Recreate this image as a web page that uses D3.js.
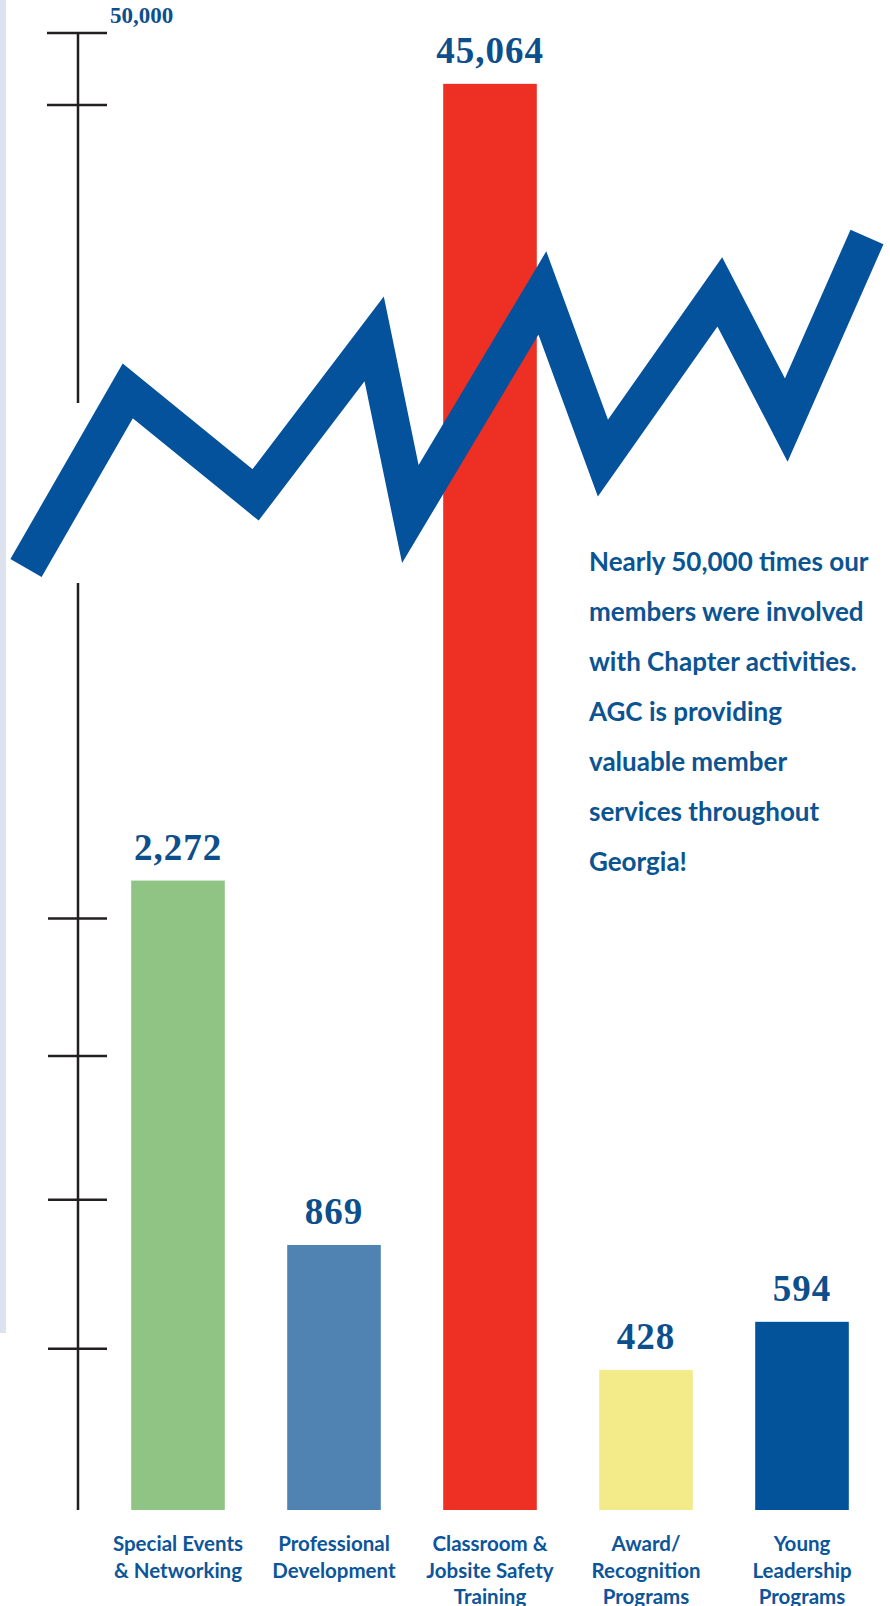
<!DOCTYPE html>
<html lang="en">
<head>
    <meta charset="utf-8" />
    <title>Member involvement</title>
    <script type="text/javascript" src="https://d3js.org/d3.v7.min.js"></script>
    <style>
        body { margin: 0; background: #fff; }
        .cat { font-family: Lato, "Open Sans", sans-serif; font-weight: bold; font-size: 20.5px; fill: #0c559a; }
        .val { font-family: "Liberation Serif", "Times New Roman", serif; font-weight: bold; font-size: 37px; fill: #0d4f8c; }
        .note { font-family: Lato, "Open Sans", sans-serif; font-weight: bold; font-size: 26px; fill: #0b5492; }
    </style>
</head>
<body>
    <script type="text/javascript">

        // data
        var categories = ["Special Events & Networking", "Professional Development",
            "Classroom & Jobsite Safety Training", "Award/ Recognition Programs",
            "Young Leadership Programs"];
        var catLines = [["Special Events", "& Networking"], ["Professional", "Development"],
            ["Classroom &", "Jobsite Safety", "Training"], ["Award/", "Recognition", "Programs"],
            ["Young", "Leadership", "Programs"]];
        var values = [2272, 869, 45064, 428, 594];
        var colors = ["#8fc485", "#5083b1", "#ee3024", "#f3eb8a", "#03539b"];
        var lowTicks = [500, 1035, 1580, 2120];
        var highTicks = [50000, 43000];
        var topLabel = "50,000";
        var noteLines = ["Nearly 50,000 times our", "members were involved", "with Chapter activities.",
            "AGC is providing", "valuable member", "services throughout", "Georgia!"];
        // shape of the axis-break zigzag (0..1 in both directions)
        var breakX = [0, 0.121, 0.273, 0.414, 0.457, 0.614, 0.686, 0.825, 0.904, 1];
        var breakY = [0, 0.535, 0.221, 0.692, 0.163, 0.831, 0.332, 0.834, 0.447, 1];

        var w = 890;
        var h = 1606;
        var base = 1510;
        var axisX = 78;

        var svg = d3.select("body")
            .append("svg")
            .attr("width", w)
            .attr("height", h);

        var x = d3.scaleBand()
            .domain(categories)
            .range([100, 880])
            .paddingInner(0.4)
            .paddingOuter(0.2);

        // broken value axis: low part and high part
        var yLow = d3.scalePow()
            .exponent(0.9)
            .domain([0, 2500])
            .range([base, 824]);

        var yHigh = d3.scaleLinear()
            .domain([40000, 50000])
            .range([136, 33]);

        function yOf(v) {
            return v > 10000 ? yHigh(v) : yLow(v);
        }

        // light strip at the left edge
        svg.append("rect")
            .attr("x", 0)
            .attr("y", 0)
            .attr("width", 6)
            .attr("height", 1333)
            .attr("fill", "#dce3ef");

        // axis pieces
        svg.append("line")
            .attr("x1", axisX).attr("x2", axisX)
            .attr("y1", yHigh(50000)).attr("y2", 403)
            .attr("stroke", "#231f20").attr("stroke-width", 2.5);

        svg.append("line")
            .attr("x1", axisX).attr("x2", axisX)
            .attr("y1", 583).attr("y2", base)
            .attr("stroke", "#231f20").attr("stroke-width", 2.5);

        svg.selectAll("line.hi")
            .data(highTicks)
            .enter()
            .append("line")
            .attr("class", "hi")
            .attr("x1", 47).attr("x2", 107)
            .attr("y1", function (d) { return yHigh(d); })
            .attr("y2", function (d) { return yHigh(d); })
            .attr("stroke", "#231f20").attr("stroke-width", 2.5);

        svg.selectAll("line.lo")
            .data(lowTicks)
            .enter()
            .append("line")
            .attr("class", "lo")
            .attr("x1", 48).attr("x2", 107)
            .attr("y1", function (d) { return yLow(d); })
            .attr("y2", function (d) { return yLow(d); })
            .attr("stroke", "#231f20").attr("stroke-width", 2.5);

        svg.append("text")
            .attr("class", "val")
            .attr("x", 110)
            .attr("y", 23)
            .style("font-size", "23px")
            .text(topLabel);

        // bars
        svg.selectAll("rect.bar")
            .data(values)
            .enter()
            .append("rect")
            .attr("class", "bar")
            .attr("x", function (d, i) { return x(categories[i]); })
            .attr("y", function (d) { return yOf(d); })
            .attr("width", x.bandwidth())
            .attr("height", function (d) { return base - yOf(d); })
            .attr("fill", function (d, i) { return colors[i]; });

        svg.selectAll("text.num")
            .data(values)
            .enter()
            .append("text")
            .attr("class", "val num")
            .attr("text-anchor", "middle")
            .attr("letter-spacing", "1px")
            .attr("x", function (d, i) { return x(categories[i]) + x.bandwidth() / 2; })
            .attr("y", function (d) { return yOf(d) - 21; })
            .text(function (d) { return d3.format(",")(d); });

        // zigzag break line
        var bx = d3.scaleLinear().domain([0, 1]).range([26, 867]);
        var by = d3.scaleLinear().domain([0, 1]).range([568, 237]);
        var zig = d3.line()
            .x(function (d, i) { return bx(breakX[i]); })
            .y(function (d, i) { return by(breakY[i]); });

        svg.append("path")
            .attr("d", zig(breakX))
            .attr("fill", "none")
            .attr("stroke", "#03529b")
            .attr("stroke-width", 36)
            .attr("stroke-linejoin", "miter")
            .attr("stroke-miterlimit", 10)
            .attr("stroke-linecap", "butt");

        // category labels
        var cats = svg.selectAll("text.cat")
            .data(catLines)
            .enter()
            .append("text")
            .attr("class", "cat")
            .attr("text-anchor", "middle");

        cats.selectAll("tspan")
            .data(function (d, i) {
                return d.map(function (t) { return { t: t, c: categories[i] }; });
            })
            .enter()
            .append("tspan")
            .attr("x", function (d) { return x(d.c) + x.bandwidth() / 2; })
            .attr("y", function (d, j) { return 1551 + j * 26.5; })
            .text(function (d) { return d.t; });

        // note
        svg.append("text")
            .attr("class", "note")
            .selectAll("tspan")
            .data(noteLines)
            .enter()
            .append("tspan")
            .attr("x", 589)
            .attr("y", function (d, i) { return 571 + i * 50; })
            .text(function (d) { return d; });

    </script>
</body>
</html>
